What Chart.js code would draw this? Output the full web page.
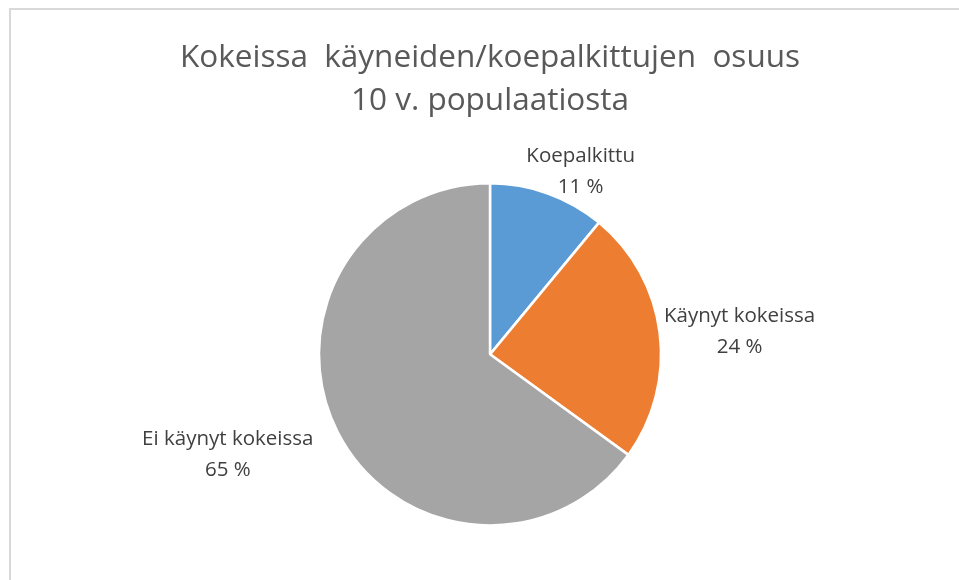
<!DOCTYPE html>
<html>
<head>
<meta charset="utf-8">
<script src="https://cdn.jsdelivr.net/npm/chart.js@4/dist/chart.umd.min.js"></script>
<style>
  html, body { margin: 0; padding: 0; background: #fff; overflow: hidden; }
  #wrap { position: absolute; left: 0; top: 0; width: 959px; height: 580px; }
  #frame { position: absolute; left: 9px; top: 8px; width: 1000px; height: 700px;
           border-left: 2px solid #D9D9D9; border-top: 2px solid #D9D9D9; pointer-events: none; }
</style>
</head>
<body>
<div id="wrap"><canvas id="c" width="959" height="580"></canvas></div>
<div id="frame"></div>
<script>
const titleLines = ["Kokeissa  käyneiden/koepalkittujen  osuus", "10 v. populaatiosta"];
const categories = ["Koepalkittu", "Käynyt kokeissa", "Ei käynyt kokeissa"];
const shares = [11, 24, 65];
const sliceColors = ["#5B9BD5", "#ED7D31", "#A5A5A5"];

const labelFont = "20.5px 'Open Sans'";
const labelPlugin = {
  id: 'outLabels',
  afterDatasetsDraw(chart, args, opts) {
    const ctx = chart.ctx;
    const meta = chart.getDatasetMeta(0);
    ctx.save();
    ctx.font = labelFont;
    ctx.fillStyle = '#404040';
    ctx.textAlign = 'center';
    ctx.textBaseline = 'middle';
    const lh = 31;
    meta.data.forEach((arc, i) => {
      const p = arc.getProps(['x', 'y', 'startAngle', 'endAngle', 'outerRadius'], true);
      const mid = (p.startAngle + p.endAngle) / 2;
      const c = Math.cos(mid), s = Math.sin(mid);
      const lines = [categories[i], shares[i] + ' %'];
      const w = Math.max(...lines.map(t => ctx.measureText(t).width));
      const h = lh * lines.length;
      const g = opts.gap;
      const cx = p.x + (p.outerRadius + g) * c + c * w / 2 + opts.nudgeX[i];
      const cy = p.y + (p.outerRadius + g) * s + s * h / 2 + opts.nudgeY[i];
      lines.forEach((t, k) => {
        ctx.fillText(t, cx, cy - h / 2 + lh * (k + 0.5));
      });
    });
    ctx.restore();
  }
};

new Chart(document.getElementById('c'), {
  type: 'pie',
  data: {
    labels: categories,
    datasets: [{
      data: shares,
      backgroundColor: sliceColors,
      borderColor: '#FFFFFF',
      borderWidth: 2.5,
      hoverOffset: 0
    }]
  },
  options: {
    responsive: false,
    animation: false,
    radius: 171,
    layout: { padding: { left: 21, right: 0, top: 0, bottom: 2 } },
    plugins: {
      legend: { display: false },
      tooltip: { enabled: false },
      title: {
        display: true,
        text: titleLines,
        color: '#595959',
        font: { family: "'Open Sans'", size: 31.5, weight: 'normal', lineHeight: 1.37 },
        padding: { top: 36, bottom: 8.4 }
      },
      outLabels: { gap: 4, nudgeX: [13, 1, -30], nudgeY: [11, 3, 7] }
    }
  },
  plugins: [labelPlugin]
});
</script>
</body>
</html>
